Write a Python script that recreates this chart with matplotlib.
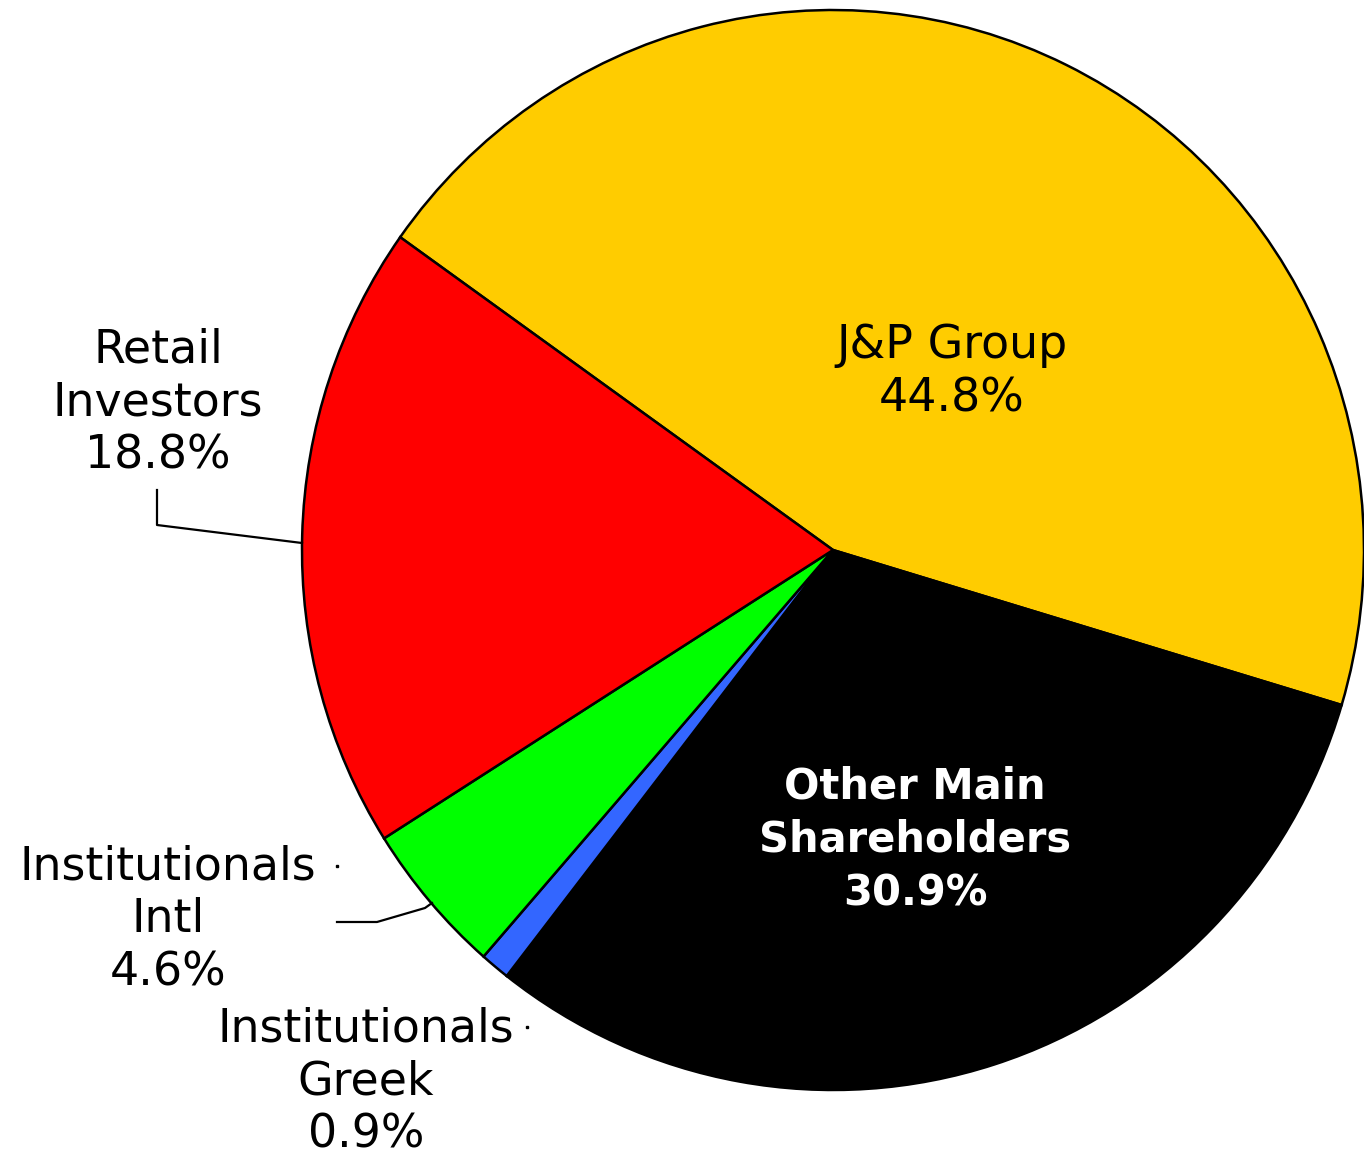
import matplotlib
matplotlib.use("Agg")
import matplotlib.pyplot as plt

# ---- data ----
categories = ["J&P Group", "Other Main\nShareholders", "Institutionals\nGreek",
              "Institutionals\nIntl", "Retail\nInvestors"]
values = [44.8, 30.9, 0.9, 4.6, 18.8]
colors = ["#FFCC00", "#000000", "#3366FF", "#00FF00", "#FF0000"]

W, H = 1364, 1157
fig = plt.figure(figsize=(W / 100, H / 100), dpi=100)
fig.patch.set_facecolor("white")

# pie bounding box in pixels
L, R, T, B = 302, 1364, 10, 1090
cx, cy = (L + R) / 2, (T + B) / 2
rx, ry = (R - L) / 2, (B - T) / 2
ax = fig.add_axes([L / W, 1 - B / H, (R - L) / W, (B - T) / H])
ax.pie(values, colors=colors, startangle=144.6, counterclock=False,
       wedgeprops=dict(edgecolor="black", linewidth=1.8))
ax.set_aspect("auto")
ax.set_xlim(-1, 1)
ax.set_ylim(-1, 1)
ax.axis("off")


def d(px, py):
    return (px - cx) / rx, (cy - py) / ry


def label(px, py, text, color="black", weight="normal", size=33, ls=1.24):
    x, y = d(px, py)
    ax.text(x, y, text, ha="center", va="center", fontsize=size, color=color,
            fontweight=weight, family="DejaVu Sans", linespacing=ls, clip_on=False)


def fmt(i):
    return f"{categories[i]}\n{values[i]:.1f}%"


label(952, 372, fmt(0))
label(915, 840, fmt(1), color="white", weight="bold", size=30, ls=1.34)
label(366, 1082, fmt(2))
label(168, 920, fmt(3))
label(158, 403, fmt(4))


def leader(pts):
    xs, ys = zip(*[d(px, py) for px, py in pts])
    ax.plot(xs, ys, color="black", linewidth=1.6, clip_on=False)


leader([(157, 490), (157, 525), (302, 543)])
leader([(337, 922), (377, 922), (425, 908), (432, 903)])
for px, py in [(337, 866), (527, 1027)]:
    x, y = d(px, py)
    ax.plot([x], [y], marker="s", markersize=2, color="black", clip_on=False)

fig.savefig("out.png", dpi=100, facecolor="white")
